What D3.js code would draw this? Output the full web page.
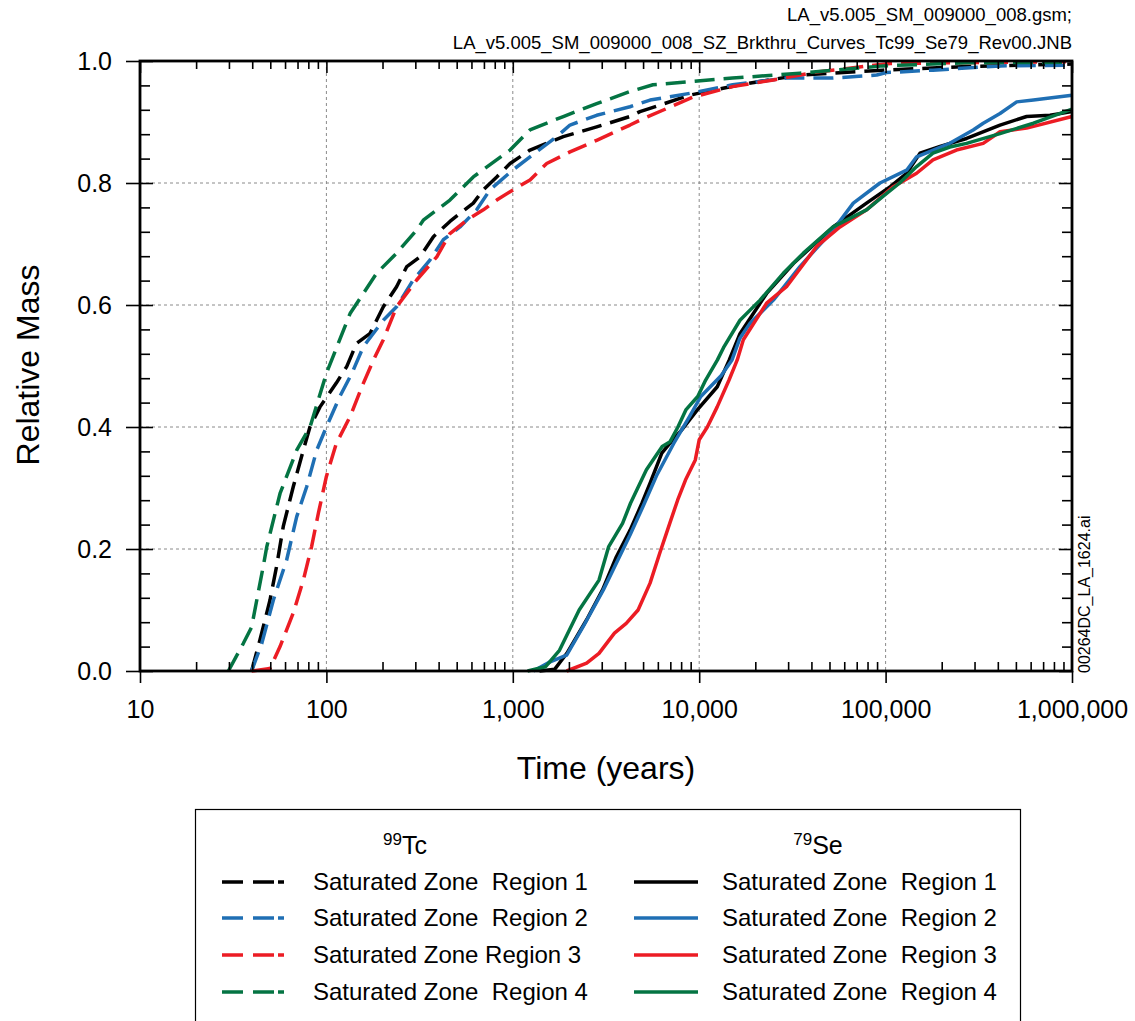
<!DOCTYPE html>
<html><head><meta charset="utf-8">
<script src="https://cdn.jsdelivr.net/npm/d3@7"></script>
<style>
html,body{margin:0;padding:0;background:#fff;}
text{font-family:"Liberation Sans",Arial,sans-serif;fill:#000;}
</style></head>
<body>
<svg id="chart" width="1135" height="1021"></svg>
<script>
// ---- data (time in years, relative mass) ----
const tcRegion1 = [[39.7,0],[44,0.051],[49.8,0.116],[54,0.171],[58.7,0.237],[66.4,0.302],[75.2,0.362],[81.6,0.40],[92.4,0.433],[113,0.472],[128.5,0.499],[145,0.537],[171,0.553],[202,0.597],[238,0.63],[270,0.663],[318,0.679],[375,0.712],[460,0.737],[521,0.75],[614,0.767],[695,0.789],[820,0.81],[967,0.832],[1237,0.854],[1866,0.876],[2818,0.892],[4254,0.909],[4810,0.917],[8910,0.944],[16550,0.961],[34700,0.977],[96800,0.985],[272000,0.991],[1000000,0.995]];
const tcRegion2 = [[39.7,0],[45,0.045],[51.9,0.116],[61.2,0.182],[69.3,0.253],[78.4,0.302],[88.7,0.362],[100,0.40],[118,0.45],[137,0.488],[158,0.532],[202,0.575],[238,0.597],[292,0.641],[360,0.674],[424,0.707],[521,0.728],[640,0.756],[755,0.789],[1007,0.822],[1237,0.843],[1718,0.876],[2027,0.895],[2818,0.911],[4254,0.925],[5450,0.936],[8910,0.947],[15100,0.961],[29400,0.972],[52300,0.972],[89600,0.977],[101000,0.981],[179500,0.985],[411000,0.992],[1000000,0.993]];
const tcRegion3 = [[39.7,0],[49.8,0.004],[56.4,0.04],[66.4,0.095],[75.2,0.149],[83.3,0.204],[90.6,0.259],[100,0.319],[113,0.373],[134,0.417],[158,0.472],[179,0.51],[202,0.543],[238,0.597],[305,0.641],[391,0.679],[460,0.717],[566,0.739],[695,0.756],[820,0.772],[1007,0.789],[1237,0.805],[1520,0.832],[2027,0.851],[2818,0.87],[4254,0.895],[4810,0.903],[9290,0.941],[15100,0.958],[25000,0.969],[42700,0.982],[106000,0.996],[1000000,0.999]];
const tcRegion4 = [[29.8,0],[35.8,0.045],[39.7,0.072],[42.3,0.116],[45.8,0.171],[47.9,0.204],[56.4,0.291],[69.3,0.362],[81.7,0.40],[100,0.488],[134,0.586],[186,0.652],[238,0.685],[305,0.723],[331,0.739],[460,0.772],[614,0.81],[967,0.854],[1236,0.887],[1866,0.909],[2818,0.93],[4254,0.95],[5650,0.961],[15100,0.972],[34700,0.98],[96800,0.992],[272000,0.997],[1000000,0.998]];

const seRegion1 = [[1390,0],[1680,0.003],[1950,0.029],[2490,0.084],[3030,0.133],[3590,0.187],[4260,0.231],[4930,0.275],[5450,0.308],[6300,0.357],[6950,0.373],[8040,0.395],[9770,0.428],[12500,0.466],[14500,0.51],[16550,0.553],[23000,0.619],[32000,0.668],[52300,0.728],[79000,0.767],[106000,0.794],[129700,0.816],[153000,0.849],[196000,0.86],[272000,0.873],[411000,0.895],[571000,0.909],[762000,0.911],[1000000,0.917]];
const seRegion2 = [[1290,0],[1586,0.015],[1945,0.026],[2388,0.073],[3060,0.133],[4254,0.223],[5000,0.27],[5900,0.32],[7300,0.373],[8870,0.417],[10200,0.45],[13100,0.484],[15000,0.51],[16500,0.545],[18750,0.57],[25000,0.608],[34700,0.663],[52300,0.723],[67100,0.767],[93300,0.80],[129700,0.821],[146700,0.843],[221000,0.865],[295000,0.887],[334000,0.898],[411000,0.914],[505000,0.933],[621000,0.936],[1000000,0.944]];
const seRegion3 = [[1945,0],[2490,0.013],[2900,0.029],[3510,0.062],[4060,0.078],[4700,0.10],[5450,0.144],[6140,0.193],[6950,0.242],[7660,0.28],[8440,0.313],[9530,0.346],[10000,0.379],[11060,0.40],[12490,0.433],[14460,0.477],[16000,0.51],[17250,0.543],[23000,0.603],[29400,0.63],[42700,0.696],[56900,0.728],[79000,0.756],[110000,0.794],[146700,0.816],[179500,0.838],[240000,0.854],[334000,0.865],[411000,0.884],[571000,0.89],[1000000,0.909]];
const seRegion4 = [[1200,0],[1500,0.007],[1780,0.034],[2270,0.10],[2900,0.149],[3270,0.204],[3880,0.242],[4280,0.275],[5210,0.33],[6330,0.368],[6980,0.376],[7690,0.40],[8480,0.428],[9820,0.45],[10830,0.477],[12530,0.51],[13500,0.53],[16550,0.575],[21200,0.608],[28250,0.652],[36200,0.685],[52300,0.728],[79000,0.756],[96800,0.778],[119000,0.80],[146700,0.827],[179500,0.849],[221000,0.859],[272000,0.865],[411000,0.881],[621000,0.898],[1000000,0.921]];

const regionNames = ["Saturated Zone  Region 1","Saturated Zone  Region 2","Saturated Zone Region 3","Saturated Zone  Region 4"];
const seNames = ["Saturated Zone  Region 1","Saturated Zone  Region 2","Saturated Zone  Region 3","Saturated Zone  Region 4"];
const regionColors = ["#000000","#1f6fb4","#ec1c24","#047443"];
const xMajorTicks = [10,100,1000,10000,100000,1000000];
const yMajorTicks = [0,0.2,0.4,0.6,0.8,1.0];
const noteLines = ["LA_v5.005_SM_009000_008.gsm;","LA_v5.005_SM_009000_008_SZ_Brkthru_Curves_Tc99_Se79_Rev00.JNB"];
const sideLabel = "00264DC_LA_1624.ai";

// ---- layout ----
const svg = d3.select("#chart");
const L = 140, R = 1072, T = 61, B = 671;
const x = d3.scaleLog().domain([10,1e6]).range([L,R]);
const y = d3.scaleLinear().domain([0,1]).range([B,T]);

const xMinor = [];
for (let d = 10; d < 1e6; d *= 10) for (let k = 2; k <= 9; k++) xMinor.push(d*k);
const yMinor = d3.range(0,1.0001,0.04).filter(v => Math.abs(v*5 - Math.round(v*5)) > 1e-6);

svg.append("rect").attr("width",1135).attr("height",1021).attr("fill","#fff");

// grid
const grid = svg.append("g").attr("stroke","#8a8a8a").attr("stroke-width",1).attr("stroke-dasharray","3,3");
grid.selectAll(".gx").data([100,1000,10000,100000]).join("line")
  .attr("x1",d=>x(d)).attr("x2",d=>x(d)).attr("y1",T).attr("y2",B);
grid.selectAll(".gy").data([0.2,0.4,0.6,0.8]).join("line")
  .attr("x1",L).attr("x2",R).attr("y1",d=>y(d)).attr("y2",d=>y(d));

// curves
const line = d3.line().x(d=>x(d[0])).y(d=>y(d[1]));
const plotG = svg.append("g");
const tcSeries = [tcRegion1,tcRegion2,tcRegion3,tcRegion4];
const seSeries = [seRegion1,seRegion2,seRegion3,seRegion4];
seSeries.forEach((s,i)=>{
  plotG.append("path").attr("d",line(s)).attr("fill","none")
    .attr("stroke",regionColors[i]).attr("stroke-width",3.5).attr("stroke-linejoin","round");
});
tcSeries.forEach((s,i)=>{
  plotG.append("path").attr("d",line(s)).attr("fill","none")
    .attr("stroke",regionColors[i]).attr("stroke-width",3.5)
    .attr("stroke-dasharray","20,9").attr("stroke-linejoin","round");
});

// axes
const fontAxis = "25px";
const ff = "Liberation Sans, Arial, sans-serif";
function style(g){ g.select(".domain").remove(); g.selectAll("line").attr("stroke","#000").attr("stroke-width",1.6); }
svg.append("g").attr("transform",`translate(0,${B})`)
  .call(d3.axisBottom(x).tickValues(xMajorTicks).tickSize(12).tickPadding(17).tickFormat(d3.format(",")))
  .call(style).call(g=>g.selectAll("text").attr("font-size",fontAxis).attr("font-family",ff).attr("fill","#000"));
svg.append("g").attr("transform",`translate(0,${B})`)
  .call(d3.axisBottom(x).tickValues(xMinor).tickSize(-9).tickFormat(""))
  .call(style);
svg.append("g").attr("transform",`translate(0,${T})`)
  .call(d3.axisTop(x).tickValues(xMajorTicks).tickSize(-12).tickFormat(""))
  .call(style);
svg.append("g").attr("transform",`translate(0,${T})`)
  .call(d3.axisTop(x).tickValues(xMinor).tickSize(-8).tickFormat(""))
  .call(style);
svg.append("g").attr("transform",`translate(${L},0)`)
  .call(d3.axisLeft(y).tickValues(yMajorTicks).tickSize(14).tickPadding(14).tickFormat(d3.format(".1f")))
  .call(style).call(g=>g.selectAll("text").attr("font-size",fontAxis).attr("font-family",ff).attr("fill","#000"));
svg.append("g").attr("transform",`translate(${L},0)`)
  .call(d3.axisLeft(y).tickValues(yMajorTicks).tickSize(-13).tickFormat(""))
  .call(style);
svg.append("g").attr("transform",`translate(${L},0)`)
  .call(d3.axisLeft(y).tickValues(yMinor).tickSize(-10).tickFormat(""))
  .call(style);
svg.append("g").attr("transform",`translate(${R},0)`)
  .call(d3.axisRight(y).tickValues(yMajorTicks).tickSize(-13).tickFormat(""))
  .call(style);
svg.append("g").attr("transform",`translate(${R},0)`)
  .call(d3.axisRight(y).tickValues(yMinor).tickSize(-10).tickFormat(""))
  .call(style);

// frame
svg.append("rect").attr("x",L).attr("y",T).attr("width",R-L).attr("height",B-T)
  .attr("fill","none").attr("stroke","#000").attr("stroke-width",2.8);

// titles
svg.append("text").attr("x",606).attr("y",779).attr("text-anchor","middle")
  .attr("font-size","32px").text("Time (years)");
svg.append("text").attr("transform","translate(39,365) rotate(-90)").attr("text-anchor","middle")
  .attr("font-size","32px").text("Relative Mass");
noteLines.forEach((t,i)=>{
  svg.append("text").attr("x",R).attr("y",21+i*28).attr("text-anchor","end")
    .attr("font-size","18.5px").text(t);
});
svg.append("text").attr("transform","translate(1090,673) rotate(-90)").attr("text-anchor","start")
  .attr("font-size","16px").text(sideLabel);

// legend
const lg = svg.append("g");
lg.append("rect").attr("x",195.5).attr("y",809.5).attr("width",825).attr("height",230)
  .attr("fill","none").attr("stroke","#000").attr("stroke-width",1.2);
function header(cx, sup, main){
  const t = lg.append("text").attr("x",cx).attr("y",854).attr("text-anchor","middle").attr("font-size","25px");
  t.append("tspan").attr("font-size","17px").attr("dy","-9").text(sup);
  t.append("tspan").attr("dy","9").text(main);
}
header(405,"99","Tc");
header(818,"79","Se");
const rowY = [882,918,955,992];
rowY.forEach((ry,i)=>{
  lg.append("line").attr("x1",222).attr("x2",284).attr("y1",ry).attr("y2",ry)
    .attr("stroke",regionColors[i]).attr("stroke-width",3.5).attr("stroke-dasharray","21,10,21,4,6,100");
  lg.append("text").attr("x",313).attr("y",ry+8).attr("font-size","24px").style("white-space","pre").text(regionNames[i]);
  lg.append("line").attr("x1",634).attr("x2",698).attr("y1",ry).attr("y2",ry)
    .attr("stroke",regionColors[i]).attr("stroke-width",3.5);
  lg.append("text").attr("x",722).attr("y",ry+8).attr("font-size","24px").style("white-space","pre").text(seNames[i]);
});
</script>
</body></html>
